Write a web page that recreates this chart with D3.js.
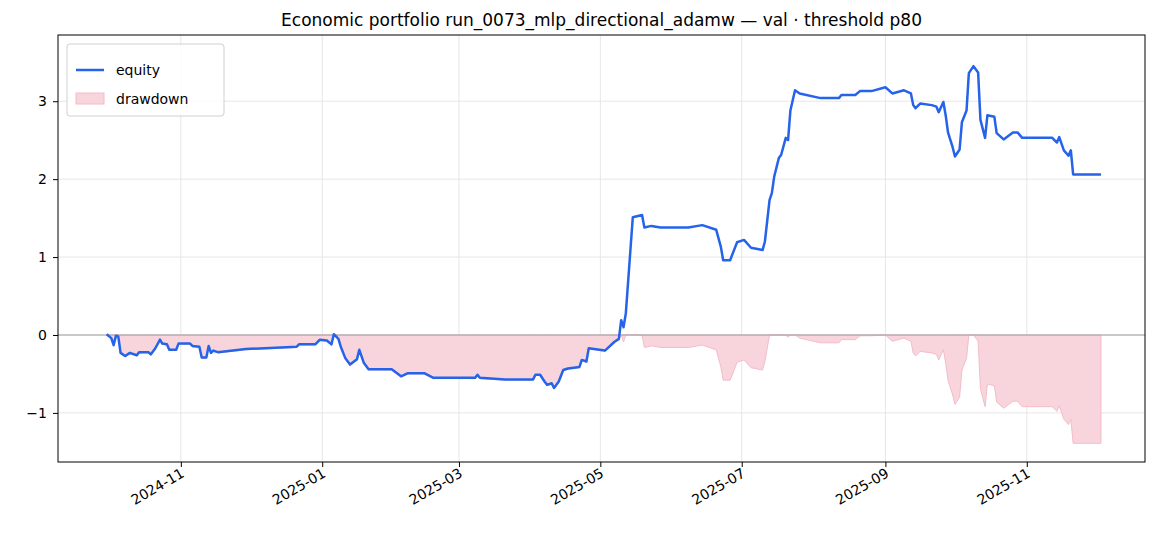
<!DOCTYPE html>
<html>
<head>
<meta charset="utf-8">
<script src="https://cdn.jsdelivr.net/npm/d3@7"></script>
<style>
  body { margin: 0; background: #fff; }
  text { font-family: "DejaVu Sans", sans-serif; }
</style>
</head>
<body>
<svg id="vis" width="1170" height="546"></svg>
<script>
var title = "Economic portfolio run_0073_mlp_directional_adamw — val · threshold p80";

var dates = [
  "2024-09-30","2024-10-02","2024-10-03","2024-10-04","2024-10-05","2024-10-06","2024-10-08","2024-10-10",
  "2024-10-13","2024-10-14","2024-10-18","2024-10-19","2024-10-21","2024-10-23","2024-10-24","2024-10-26",
  "2024-10-27","2024-10-30","2024-10-31","2024-11-05","2024-11-06","2024-11-09","2024-11-10","2024-11-12",
  "2024-11-13","2024-11-14","2024-11-15","2024-11-17","2024-11-29","2024-12-21","2024-12-22","2024-12-29",
  "2024-12-31","2025-01-03","2025-01-05","2025-01-06","2025-01-08","2025-01-09","2025-01-11","2025-01-13",
  "2025-01-16","2025-01-17","2025-01-19","2025-01-21","2025-01-31","2025-02-04","2025-02-07","2025-02-14",
  "2025-02-18","2025-03-08","2025-03-09","2025-03-10","2025-03-21","2025-04-02","2025-04-03","2025-04-05",
  "2025-04-07","2025-04-08","2025-04-10","2025-04-11","2025-04-13","2025-04-15","2025-04-17","2025-04-22",
  "2025-04-23","2025-04-25","2025-04-26","2025-05-03","2025-05-07","2025-05-09","2025-05-10","2025-05-11",
  "2025-05-12","2025-05-15","2025-05-19","2025-05-20","2025-05-23","2025-05-27","2025-06-08","2025-06-14",
  "2025-06-20","2025-06-22","2025-06-23","2025-06-26","2025-06-29","2025-07-02","2025-07-05","2025-07-10",
  "2025-07-11","2025-07-13","2025-07-14","2025-07-15","2025-07-17","2025-07-18","2025-07-20","2025-07-21",
  "2025-07-22","2025-07-24","2025-07-26","2025-08-04","2025-08-12","2025-08-13","2025-08-19","2025-08-21",
  "2025-08-26","2025-09-01","2025-09-04","2025-09-09","2025-09-12","2025-09-13","2025-09-14","2025-09-16",
  "2025-09-21","2025-09-23","2025-09-24","2025-09-26","2025-09-27","2025-09-28","2025-09-30","2025-10-01",
  "2025-10-03","2025-10-04","2025-10-06","2025-10-07","2025-10-09","2025-10-11","2025-10-12","2025-10-14",
  "2025-10-15","2025-10-18","2025-10-19","2025-10-22","2025-10-26","2025-10-28","2025-10-30","2025-11-12",
  "2025-11-14","2025-11-15","2025-11-17","2025-11-19","2025-11-20","2025-11-21","2025-12-03"
];
var equity = [
  0.01,-0.04,-0.13,-0.01,-0.02,-0.23,-0.27,-0.23,
  -0.26,-0.22,-0.22,-0.25,-0.17,-0.06,-0.11,-0.12,
  -0.19,-0.19,-0.11,-0.11,-0.14,-0.15,-0.29,-0.29,
  -0.14,-0.23,-0.20,-0.22,-0.18,-0.15,-0.12,-0.12,
  -0.06,-0.07,-0.12,0.01,-0.05,-0.15,-0.30,-0.38,
  -0.31,-0.19,-0.36,-0.44,-0.44,-0.53,-0.49,-0.49,
  -0.55,-0.55,-0.51,-0.55,-0.57,-0.57,-0.51,-0.51,
  -0.60,-0.64,-0.62,-0.68,-0.60,-0.45,-0.43,-0.41,
  -0.32,-0.34,-0.17,-0.20,-0.09,-0.05,0.19,0.10,
  0.28,1.51,1.54,1.38,1.40,1.38,1.38,1.41,
  1.35,1.13,0.96,0.96,1.19,1.22,1.12,1.09,
  1.20,1.73,1.82,2.03,2.27,2.31,2.53,2.50,
  2.88,3.14,3.10,3.04,3.04,3.08,3.08,3.13,
  3.13,3.18,3.10,3.14,3.10,2.95,2.91,2.97,
  2.95,2.93,2.86,2.99,2.82,2.60,2.41,2.29,
  2.38,2.73,2.88,3.36,3.45,3.37,2.76,2.53,
  2.82,2.80,2.59,2.51,2.60,2.60,2.53,2.53,
  2.47,2.54,2.37,2.30,2.37,2.06,2.06
];
var yTicks = [-1, 0, 1, 2, 3];
var xTickDates = ["2024-11-01","2025-01-01","2025-03-01","2025-05-01","2025-07-01","2025-09-01","2025-11-01"];

var parse = d3.timeParse("%Y-%m-%d");
var peak = -Infinity;
var rows = dates.map(function(d, i) {
  peak = Math.max(peak, equity[i]);
  return { date: parse(d), equity: equity[i], dd: equity[i] - peak };
});

var svg = d3.select("#vis");
var margin = { top: 35, right: 25, bottom: 84, left: 58 };
var width = 1170, height = 546;

var x = d3.scaleTime()
  .domain([parse("2024-09-09"), parse("2025-12-22")])
  .range([margin.left, width - margin.right]);
var y = d3.scaleLinear()
  .domain([-1.63, 3.85])
  .range([height - margin.bottom, margin.top]);

// grid
svg.append("g").selectAll("line").data(yTicks).enter().append("line")
  .attr("x1", margin.left).attr("x2", width - margin.right)
  .attr("y1", d => y(d)).attr("y2", d => y(d))
  .style("stroke", "#e6e6e6").style("stroke-width", 1);
svg.append("g").selectAll("line").data(xTickDates).enter().append("line")
  .attr("x1", d => x(parse(d))).attr("x2", d => x(parse(d)))
  .attr("y1", margin.top).attr("y2", height - margin.bottom)
  .style("stroke", "#e6e6e6").style("stroke-width", 1);

// drawdown
svg.append("path")
  .datum(rows)
  .attr("d", d3.area().x(d => x(d.date)).y0(y(0)).y1(d => y(d.dd)))
  .style("fill", "#f8d5dc")
  .style("stroke", "#f4bcc8")
  .style("stroke-width", 1);

// zero line
svg.append("line")
  .attr("x1", margin.left).attr("x2", width - margin.right)
  .attr("y1", y(0)).attr("y2", y(0))
  .style("stroke", "#a0a0a0").style("stroke-width", 1.2);

// equity
svg.append("path")
  .datum(rows)
  .attr("d", d3.line().x(d => x(d.date)).y(d => y(d.equity)))
  .style("fill", "none")
  .style("stroke", "#2563eb")
  .style("stroke-width", 2.5)
  .style("stroke-linejoin", "round");

// axes
var yAxis = svg.append("g")
  .attr("transform", `translate(${margin.left},0)`)
  .call(d3.axisLeft(y).tickValues(yTicks).tickFormat(d => d < 0 ? "\u2212" + Math.abs(d) : d).tickSizeOuter(0).tickSize(5).tickPadding(6));
var xAxis = svg.append("g")
  .attr("transform", `translate(0,${height - margin.bottom})`)
  .call(d3.axisBottom(x).tickValues(xTickDates.map(parse)).tickFormat(d3.timeFormat("%Y-%m")).tickSizeOuter(0).tickSize(5));
xAxis.selectAll("text")
  .attr("text-anchor", "end")
  .attr("x", 0).attr("y", 0)
  .attr("dx", 0).attr("dy", 0)
  .attr("transform", "translate(4,14) rotate(-30)");
[yAxis, xAxis].forEach(function(a) {
  a.selectAll("text").style("font-size", "14px").style("fill", "#000");
  a.selectAll("line").style("stroke", "#000");
  a.select(".domain").remove();
});

svg.append("rect")
  .attr("x", margin.left).attr("y", margin.top)
  .attr("width", width - margin.left - margin.right)
  .attr("height", height - margin.top - margin.bottom)
  .style("fill", "none").style("stroke", "#000").style("stroke-width", 1);

svg.append("text")
  .text(title)
  .attr("x", (margin.left + width - margin.right) / 2)
  .attr("y", 26)
  .attr("text-anchor", "middle")
  .style("font-size", "17px");

// legend
var lg = svg.append("g").attr("transform", "translate(67,44)");
lg.append("rect").attr("width", 157).attr("height", 72).attr("rx", 3)
  .style("fill", "#fff").style("fill-opacity", 0.8).style("stroke", "#d0d0d0");
lg.append("line").attr("x1", 9).attr("x2", 37).attr("y1", 26).attr("y2", 26)
  .style("stroke", "#2563eb").style("stroke-width", 2.5);
lg.append("text").text("equity").attr("x", 49).attr("y", 31).style("font-size", "14px");
lg.append("rect").attr("x", 9).attr("y", 49).attr("width", 28).attr("height", 11)
  .style("fill", "#f8d5dc").style("stroke", "#f4bcc8");
lg.append("text").text("drawdown").attr("x", 49).attr("y", 60).style("font-size", "14px");
</script>
</body>
</html>
